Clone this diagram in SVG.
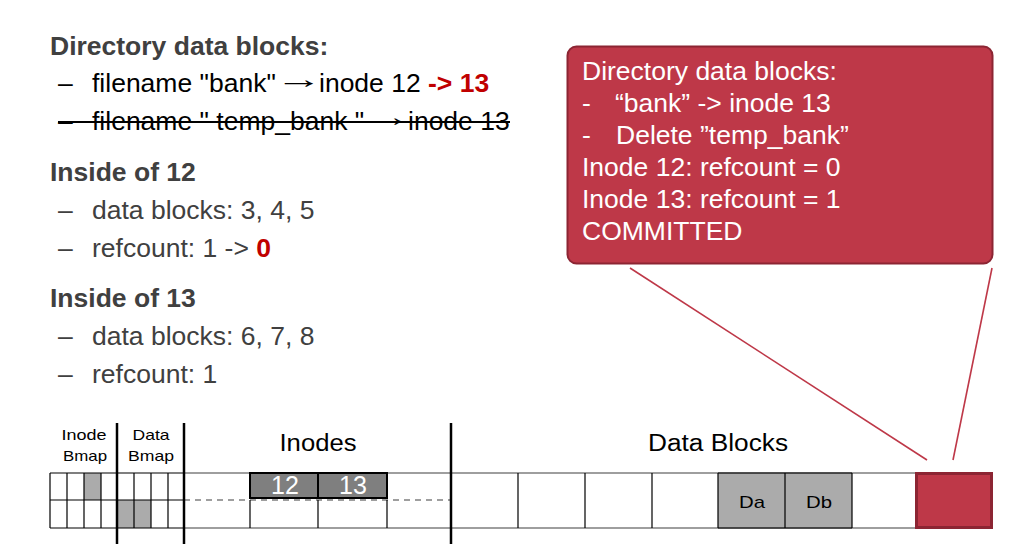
<svg xmlns="http://www.w3.org/2000/svg" width="1030" height="552" viewBox="0 0 1030 552">
<style>
  .t { font-family: "Liberation Sans", Arial, sans-serif; }
  .h { font-size: 26.5px; font-weight: bold; fill: #404040; }
  .b { font-size: 26.5px; fill: #404040; }
  .bk { font-size: 26.5px; fill: #000000; }
  .red { fill: #C00000; font-weight: bold; }
  .cw { font-size: 26.5px; fill: #FFFFFF; }
  .sm { font-size: 15px; fill: #000; }
  .md { font-size: 23px; fill: #000; }
  .grid { stroke: #000; stroke-width: 1.2; fill: none; }
  .gline { stroke: #7f7f7f; stroke-width: 1.5; fill: none; }
  .sep { stroke: #000; stroke-width: 2.5; }
  .shade { fill: #ABABAB; }
  .callout { fill: #BE3848; stroke: #8C2533; stroke-width: 2; }
  .conn { stroke: #BE3848; stroke-width: 1.6; fill: none; }
</style>

<g id="text-left" class="t">
  <text class="h" x="50" y="55">Directory data blocks:</text>
  <text class="bk" x="58" y="92">–</text>
  <text class="bk" x="92" y="92">filename "bank"</text>
  <text class="bk" x="0" y="0" transform="translate(275,88) scale(1.8,1)">→</text>
  <text class="bk" x="319" y="92">inode 12 <tspan class="red">-&gt; 13</tspan></text>
  <text class="bk" x="58" y="130">–</text>
  <text class="bk" x="92" y="130">filename " temp_bank "</text>
  <text class="bk" x="0" y="0" transform="translate(364,126) scale(1.8,1)">→</text>
  <text class="bk" x="408" y="130">inode 13</text>
  <line x1="58" y1="122" x2="510" y2="122" stroke="#000" stroke-width="2"/>
  <text class="h" x="50" y="181">Inside of 12</text>
  <text class="b" x="58" y="219">–</text>
  <text class="b" x="92" y="219">data blocks: 3, 4, 5</text>
  <text class="b" x="58" y="257">–</text>
  <text class="b" x="92" y="257">refcount: 1 -&gt; <tspan class="red">0</tspan></text>
  <text class="h" x="50" y="307">Inside of 13</text>
  <text class="b" x="58" y="345">–</text>
  <text class="b" x="92" y="345">data blocks: 6, 7, 8</text>
  <text class="b" x="58" y="383">–</text>
  <text class="b" x="92" y="383">refcount: 1</text>
</g>

<g id="callout">
  <rect class="callout" x="567.5" y="46.5" width="425" height="217" rx="9"/>
  <g class="t cw">
    <text x="582" y="80">Directory data blocks:</text>
    <text x="582" y="112">-</text>
    <text x="615" y="112">“bank” -&gt; inode 13</text>
    <text x="582" y="144">-</text>
    <text x="616" y="144">Delete ”temp_bank”</text>
    <text x="582" y="176">Inode 12: refcount = 0</text>
    <text x="582" y="208">Inode 13: refcount = 1</text>
    <text x="582" y="240">COMMITTED</text>
  </g>
</g>

<g id="connectors">
  <line class="conn" x1="630" y1="268" x2="927" y2="460"/>
  <line class="conn" x1="992" y1="268" x2="953" y2="460"/>
</g>

<g id="inode-bmap">
  <rect class="shade" x="84" y="473" width="17" height="27"/>
  <path class="grid" d="M50,473 H117 M50,500 H117 M50,528 H117 M50,473 V528 M67,473 V528 M84,473 V528 M101,473 V528"/>
  <text class="t sm" x="84" y="440" text-anchor="middle" textLength="45" lengthAdjust="spacingAndGlyphs">Inode</text>
  <text class="t sm" x="85" y="461" text-anchor="middle" textLength="44" lengthAdjust="spacingAndGlyphs">Bmap</text>
</g>

<g id="data-bmap">
  <rect class="shade" x="117" y="500" width="34" height="28"/>
  <path class="grid" d="M117,473 H184 M117,500 H184 M117,528 H184 M134,473 V528 M151,473 V528 M168,473 V528"/>
  <text class="t sm" x="151" y="440" text-anchor="middle" textLength="37" lengthAdjust="spacingAndGlyphs">Data</text>
  <text class="t sm" x="151" y="461" text-anchor="middle" textLength="46" lengthAdjust="spacingAndGlyphs">Bmap</text>
</g>

<g id="inodes">
  <path class="gline" d="M184,473 H451 M184,528 H451"/>
  <line x1="184" y1="500" x2="451" y2="500" stroke="#7f7f7f" stroke-width="1.5" stroke-dasharray="6,5"/>
  <path class="grid" d="M250,500 V528 M318,500 V528 M387,500 V528"/>
  <text class="t md" x="318" y="451" text-anchor="middle" textLength="77" lengthAdjust="spacingAndGlyphs">Inodes</text>
</g>

<g id="inode-12">
  <rect x="250" y="473" width="68" height="25" fill="#7F7F7F" stroke="#000" stroke-width="2"/>
  <text class="t" x="285" y="494" font-size="25" fill="#fff" text-anchor="middle">12</text>
</g>
<g id="inode-13">
  <rect x="318" y="473" width="69" height="25" fill="#7F7F7F" stroke="#000" stroke-width="2"/>
  <text class="t" x="353" y="494" font-size="25" fill="#fff" text-anchor="middle">13</text>
</g>

<g id="data-blocks">
  <rect class="shade" x="718" y="473" width="134" height="55"/>
  <path class="gline" d="M451,473 H915 M451,528 H915"/>
  <path class="grid" d="M518,473 V528 M585,473 V528 M652,473 V528 M718,473 V528 M785,473 V528 M852,473 V528 M718,473 H852 M718,528 H852"/>
  <text class="t md" x="718" y="451" text-anchor="middle" textLength="140" lengthAdjust="spacingAndGlyphs">Data Blocks</text>
  <text class="t" x="752" y="508" font-size="17" text-anchor="middle" textLength="26" lengthAdjust="spacingAndGlyphs">Da</text>
  <text class="t" x="819" y="508" font-size="17" text-anchor="middle" textLength="26" lengthAdjust="spacingAndGlyphs">Db</text>
</g>

<g id="commit-block">
  <rect x="916.5" y="473.5" width="75" height="54" fill="#BE3848" stroke="#8C2533" stroke-width="3"/>
</g>

<g id="separators">
  <line class="sep" x1="117" y1="423" x2="117" y2="544"/>
  <line class="sep" x1="184" y1="423" x2="184" y2="544"/>
  <line class="sep" x1="451" y1="423" x2="451" y2="544"/>
</g>
</svg>
